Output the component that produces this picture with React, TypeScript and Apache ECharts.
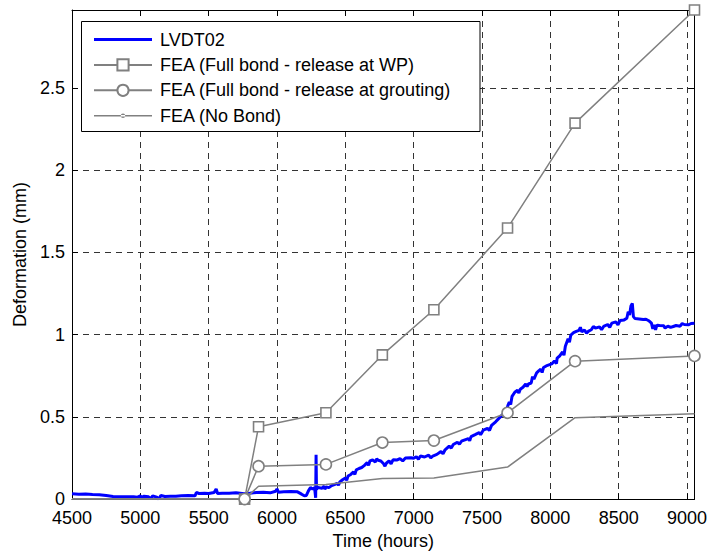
import React, { useEffect, useRef } from "react";
import * as echarts from "echarts";

// LVDT02 measurement: [time (hours), deformation (mm)]
const lvdtPoints: number[][] = [
  [4500, 0.032], [4550, 0.030], [4600, 0.031], [4650, 0.028], [4700, 0.027], [4750, 0.022], [4800, 0.016], [4850, 0.014],
  [4900, 0.014], [4950, 0.015], [4980, 0.012], [5000, 0.020], [5010, 0.005], [5025, 0.018], [5060, 0.014], [5075, 0.002],
  [5090, 0.020], [5120, 0.012], [5135, 0.000], [5150, 0.022], [5180, 0.016], [5220, 0.018], [5260, 0.017], [5300, 0.020],
  [5350, 0.022], [5400, 0.020], [5410, 0.040], [5430, 0.034], [5470, 0.036], [5500, 0.034], [5540, 0.040], [5555, 0.062],
  [5565, 0.034], [5600, 0.036], [5650, 0.035], [5700, 0.038], [5760, 0.033], [5800, 0.036], [5850, 0.040], [5900, 0.042],
  [5950, 0.038], [5990, 0.048], [6000, 0.062], [6010, 0.042], [6050, 0.045], [6100, 0.046], [6150, 0.044], [6180, 0.030],
  [6200, 0.020], [6215, 0.022], [6230, 0.050], [6245, 0.070], [6260, 0.062], [6275, 0.068], [6283, 0.008], [6286, 0.270],
  [6289, 0.060], [6300, 0.070], [6330, 0.066], [6345, 0.080], [6350, 0.060], [6360, 0.074], [6380, 0.070], [6400, 0.082],
  [6420, 0.088], [6440, 0.095], [6450, 0.085], [6460, 0.105], [6480, 0.118], [6500, 0.128], [6510, 0.115], [6520, 0.140],
  [6540, 0.150], [6560, 0.165], [6570, 0.150], [6580, 0.178], [6600, 0.186], [6620, 0.192], [6640, 0.205], [6660, 0.222],
  [6670, 0.205], [6680, 0.232], [6700, 0.238], [6720, 0.226], [6730, 0.245], [6740, 0.236], [6760, 0.232], [6780, 0.215],
  [6790, 0.200], [6800, 0.218], [6820, 0.232], [6835, 0.215], [6850, 0.240], [6880, 0.238], [6900, 0.246], [6920, 0.232],
  [6940, 0.250], [6980, 0.252], [7000, 0.248], [7020, 0.258], [7035, 0.242], [7050, 0.262], [7080, 0.256], [7110, 0.268],
  [7125, 0.250], [7140, 0.262], [7170, 0.272], [7200, 0.290], [7215, 0.275], [7230, 0.300], [7260, 0.322], [7275, 0.310],
  [7290, 0.332], [7320, 0.346], [7335, 0.334], [7350, 0.352], [7380, 0.362], [7400, 0.368], [7410, 0.355], [7420, 0.380],
  [7450, 0.392], [7480, 0.405], [7490, 0.392], [7510, 0.420], [7540, 0.430], [7555, 0.418], [7570, 0.448], [7600, 0.470],
  [7620, 0.488], [7640, 0.505], [7660, 0.522], [7680, 0.545], [7690, 0.570], [7700, 0.590], [7710, 0.575], [7720, 0.625],
  [7740, 0.650], [7760, 0.662], [7770, 0.645], [7780, 0.668], [7800, 0.680], [7820, 0.700], [7830, 0.685], [7840, 0.700],
  [7860, 0.706], [7870, 0.745], [7880, 0.730], [7900, 0.768], [7915, 0.780], [7930, 0.790], [7940, 0.770], [7950, 0.800],
  [7970, 0.810], [7990, 0.816], [8010, 0.822], [8030, 0.840], [8045, 0.825], [8050, 0.858], [8070, 0.872], [8090, 0.895],
  [8100, 0.875], [8110, 0.930], [8130, 0.975], [8140, 0.955], [8150, 0.998], [8170, 1.012], [8190, 1.020], [8210, 1.026],
  [8220, 1.045], [8230, 1.018], [8250, 1.028], [8265, 1.010], [8280, 1.022], [8300, 1.030], [8315, 1.050], [8330, 1.040],
  [8360, 1.048], [8375, 1.030], [8390, 1.050], [8420, 1.062], [8435, 1.045], [8450, 1.070], [8480, 1.078], [8495, 1.060],
  [8510, 1.086], [8540, 1.090], [8560, 1.100], [8570, 1.140], [8580, 1.120], [8590, 1.175], [8600, 1.190], [8608, 1.110],
  [8620, 1.098], [8650, 1.096], [8680, 1.092], [8700, 1.094], [8720, 1.085], [8740, 1.070], [8750, 1.036], [8760, 1.060],
  [8770, 1.030], [8780, 1.058], [8800, 1.056], [8830, 1.054], [8840, 1.040], [8860, 1.052], [8880, 1.044], [8900, 1.050],
  [8920, 1.056], [8950, 1.052], [8965, 1.068], [8980, 1.062], [9010, 1.060], [9030, 1.068], [9055, 1.070],
];

const feaTime = [4500, 5763, 5865, 6358, 6771, 7148, 7687, 8181, 9055];
const feaWP = [0, 0, 0.44, 0.525, 0.877, 1.152, 1.649, 2.287, 2.975];
const feaGrout = [0, 0, 0.2, 0.211, 0.344, 0.356, 0.525, 0.839, 0.871];
const feaNoBond = [0, 0, 0.078, 0.089, 0.125, 0.129, 0.195, 0.495, 0.519];

const seriesNames = [
  "LVDT02",
  "FEA (Full bond - release at WP)",
  "FEA (Full bond - release at grouting)",
  "FEA (No Bond)",
];
const xTickLabels = ["4500", "5000", "5500", "6000", "6500", "7000", "7500", "8000", "8500", "9000"];
const yTickLabels = ["0", "0.5", "1", "1.5", "2", "2.5"];

const FONT = "'Liberation Sans', Arial, Helvetica, sans-serif";
const GRAY = "#808080";
const FS = 18;
const TICK_FS = 17;

const feaData = (ys: number[]) =>
  feaTime.map((x, i) => (i === 0 ? { value: [x, ys[i]], symbol: "none" } : [x, ys[i]]));

export default function App() {
  const ref = useRef<HTMLDivElement>(null);
  useEffect(() => {
    if (!ref.current) return;
    const chart = echarts.init(ref.current, null, { renderer: "svg" });
    const xMin = 4500, xMax = 9055, yMax = 2.975;
    const axisCommon = {
      axisLine: { show: true, onZero: false, lineStyle: { color: "#000", width: 1 } },
      axisTick: { show: true, inside: true, length: 6, lineStyle: { color: "#000" } },
    };
    const corners = "M0,0 L0.01,0 L0,0.01 Z M58,14 L57.99,14 L58,13.99 Z ";
    const lvdtIcon = "path://" + corners + "M0,5.6 L58,5.6 L58,8.4 L0,8.4 Z";
    const noBondIcon =
      "path://" + corners + "M0,6.3 L58,6.3 L58,7.7 L0,7.7 Z M26.8,7 A2.2,2.2 0 1,0 31.2,7 A2.2,2.2 0 1,0 26.8,7 Z";
    chart.setOption({
      animation: false,
      backgroundColor: "#fff",
      textStyle: { fontFamily: FONT },
      grid: { left: 72, right: 13, top: 10, bottom: 52, containLabel: false },
      graphic: {
        elements: [
          {
            type: "rect",
            z: 3,
            shape: { x: 81.5, y: 21.5, width: 398.5, height: 110 },
            style: { fill: "#fff", stroke: "#000", lineWidth: 1 },
          },
        ],
      },
      legend: {
        orient: "vertical",
        left: 93,
        top: 30.5,
        padding: 0,
        z: 5,
        itemWidth: 58,
        itemHeight: 14,
        itemGap: 7.4,
        textStyle: { fontSize: FS, fontFamily: FONT, color: "#000", lineHeight: 17, padding: [0, 0, 0, 3] },
        data: [
          { name: seriesNames[0], icon: lvdtIcon },
          { name: seriesNames[1] },
          { name: seriesNames[2] },
          { name: seriesNames[3], icon: noBondIcon },
        ],
      },
      xAxis: [
        {
          type: "value",
          min: xMin,
          max: xMax,
          interval: 500,
          position: "bottom",
          ...axisCommon,
          name: "Time (hours)",
          nameLocation: "middle",
          nameGap: 30,
          nameTextStyle: { fontSize: FS, color: "#000", fontFamily: FONT },
          axisLabel: {
            show: true,
            margin: 12,
            fontSize: FS,
            lineHeight: 14,
            color: "#000",
            fontFamily: FONT,
            showMaxLabel: false,
            formatter: (v: number) => {
              const i = Math.round((v - 4500) / 500);
              return Math.abs(v - (4500 + i * 500)) < 1e-6 && xTickLabels[i] ? xTickLabels[i] : "";
            },
          },
          splitLine: { show: true, lineStyle: { color: "#333", width: 1, type: [6, 5] } },
        },
        {
          type: "value",
          min: xMin,
          max: xMax,
          interval: 500,
          position: "top",
          ...axisCommon,
          axisLabel: { show: false },
          splitLine: { show: false },
        },
      ],
      yAxis: [
        {
          type: "value",
          min: 0,
          max: yMax,
          interval: 0.5,
          position: "left",
          ...axisCommon,
          name: "Deformation (mm)",
          nameLocation: "middle",
          nameGap: 38,
          nameTextStyle: { fontSize: FS, color: "#000", fontFamily: FONT },
          axisLabel: {
            show: true,
            margin: 7,
            fontSize: TICK_FS + 1,
            lineHeight: 13,
            padding: [0, 0, 4, 0],
            color: "#000",
            fontFamily: FONT,
            showMaxLabel: false,
            formatter: (v: number) => {
              const i = Math.round(v / 0.5);
              return Math.abs(v - i * 0.5) < 1e-6 && yTickLabels[i] ? yTickLabels[i] : "";
            },
          },
          splitLine: { show: true, lineStyle: { color: "#333", width: 1, type: [6, 5] } },
        },
        {
          type: "value",
          min: 0,
          max: yMax,
          interval: 0.5,
          position: "right",
          ...axisCommon,
          axisLabel: { show: false },
          splitLine: { show: false },
        },
      ],
      series: [
        {
          name: seriesNames[0],
          type: "line",
          data: lvdtPoints,
          symbol: "none",
          lineStyle: { color: "#0000ff", width: 3 },
          itemStyle: { color: "#0000ff" },
          z: 2,
        },
        {
          name: seriesNames[1],
          type: "line",
          data: feaData(feaWP),
          symbol: "rect",
          symbolSize: 10,
          showAllSymbol: true,
          lineStyle: { color: GRAY, width: 1.5 },
          itemStyle: { color: "#fff", borderColor: GRAY, borderWidth: 1.6 },
          z: 3,
        },
        {
          name: seriesNames[2],
          type: "line",
          data: feaData(feaGrout),
          symbol: "circle",
          symbolSize: 11,
          showAllSymbol: true,
          lineStyle: { color: GRAY, width: 1.5 },
          itemStyle: { color: "#fff", borderColor: GRAY, borderWidth: 1.6 },
          z: 3,
        },
        {
          name: seriesNames[3],
          type: "line",
          data: feaTime.map((x, i) => [x, feaNoBond[i]]),
          symbol: "none",
          lineStyle: { color: GRAY, width: 1.5 },
          itemStyle: { color: GRAY },
          z: 3,
        },
      ],
    });
    return () => chart.dispose();
  }, []);
  return <div ref={ref} style={{ width: 710, height: 555, position: "absolute", left: 0, top: 0 }} />;
}
